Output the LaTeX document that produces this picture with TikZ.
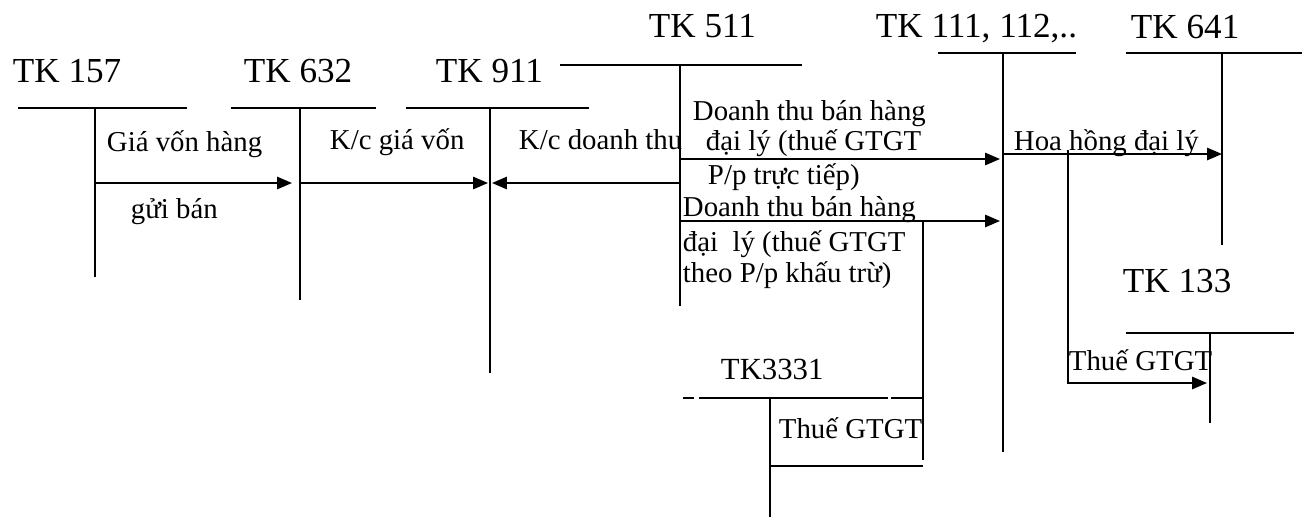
\documentclass[tikz,border=0pt]{standalone}
\usepackage{fontspec}
\setmainfont{Liberation Serif}
\usetikzlibrary{arrows.meta}

\tikzset{
  acct/.style={anchor=base west, inner sep=0pt, font=\fontsize{20}{22}\selectfont},
  note/.style={anchor=base west, inner sep=0pt, font=\fontsize{16.4}{18}\selectfont},
  flow/.style={-{Triangle[length=8.5pt,width=7pt]}},
}

\begin{document}
\begin{tikzpicture}[x=0.02cm, y=-0.02cm, line width=1.1pt]
\useasboundingbox (0,0) rectangle (1310,518);

% account names
\node[acct] (t157) at (12,82) {TK 157};
\node[acct] (t632) at (243,82) {TK 632};
\node[acct] (t911) at (435,82) {TK 911};
\node[acct] (t511) at (648,37) {TK 511};
\node[acct] (t111) at (875,37) {TK 111, 112,..};
\node[acct] (t641) at (1130,38) {TK 641};
\node[acct] (t133) at (1122,292) {TK 133};
\node[acct, font=\fontsize{17.5}{20}\selectfont] (t3331) at (720,379) {TK3331};

% T accounts
\draw (18,108) -- (187,108);   \draw (95,108) -- (95,277);
\draw (231,108) -- (376,108);  \draw (300,108) -- (300,300);
\draw (406,108) -- (589,108);  \draw (490,108) -- (490,373);
\draw (560,65) -- (802,65);    \draw (680,65) -- (680,306);
\draw (938,53) -- (1076,53);   \draw (1003,53) -- (1003,452);
\draw (1126,53) -- (1302,53);  \draw (1222,53) -- (1222,245);
\draw (1126,333) -- (1294,333); \draw (1210,333) -- (1210,423);
\draw (683,398) -- (694,398);  \draw (699,398) -- (888,398);
\draw (891,398) -- (923,398);  \draw (770,398) -- (770,517);

% flows
\coordinate (s157) at (95,183);   \coordinate (e632) at (292,183);
\coordinate (s632) at (300,183);  \coordinate (e911) at (488,183);
\coordinate (s511) at (680,183);  \coordinate (w911) at (492,183);
\draw[flow] (s157) -- (e632);
\draw[flow] (s632) -- (e911);
\draw[flow] (s511) -- (w911);

\coordinate (d1) at (680,159);    \coordinate (c1) at (1000,159);
\coordinate (d2) at (680,221);    \coordinate (c2) at (1000,221);
\draw[flow] (d1) -- (c1);
\draw[flow] (d2) -- (c2);

\coordinate (h111) at (1003,154); \coordinate (h641) at (1222,154);
\draw[flow] (h111) -- (h641);
\coordinate (b0) at (1068,150);   \coordinate (b1) at (1068,383);
\coordinate (b133) at (1207,383);
\draw[flow] (b0) -- (b1) -- (b133);

\coordinate (v0) at (923,221);    \coordinate (v1) at (923,460);
\coordinate (u0) at (770,466);    \coordinate (u1) at (923,466);
\draw (v0) -- (v1);
\draw (u0) -- (u1);

% texts
\node[note] (n1) at (106,151) {Giá vốn hàng};
\node[note] (n2) at (130,218) {gửi bán};
\node[note] (n3) at (329,149) {K/c giá vốn};
\node[note] (n4) at (518,149) {K/c doanh thu};
\node[note] (n5) at (692,120) {Doanh thu bán hàng};
\node[note] (n6) at (705,150) {đại lý (thuế GTGT};
\node[note] (n7) at (707,184) {P/p trực tiếp)};
\node[note] (n8) at (682,216) {Doanh thu bán hàng};
\node[note] (n9) at (682,251) {đại\ \ lý (thuế GTGT};
\node[note] (n10) at (682,282) {theo P/p khấu trừ)};
\node[note] (n11) at (1013,150) {Hoa hồng đại lý};
\node[note] (n12) at (1068,370) {Thuế GTGT};
\node[note] (n13) at (778,438) {Thuế GTGT};
\end{tikzpicture}
\end{document}
